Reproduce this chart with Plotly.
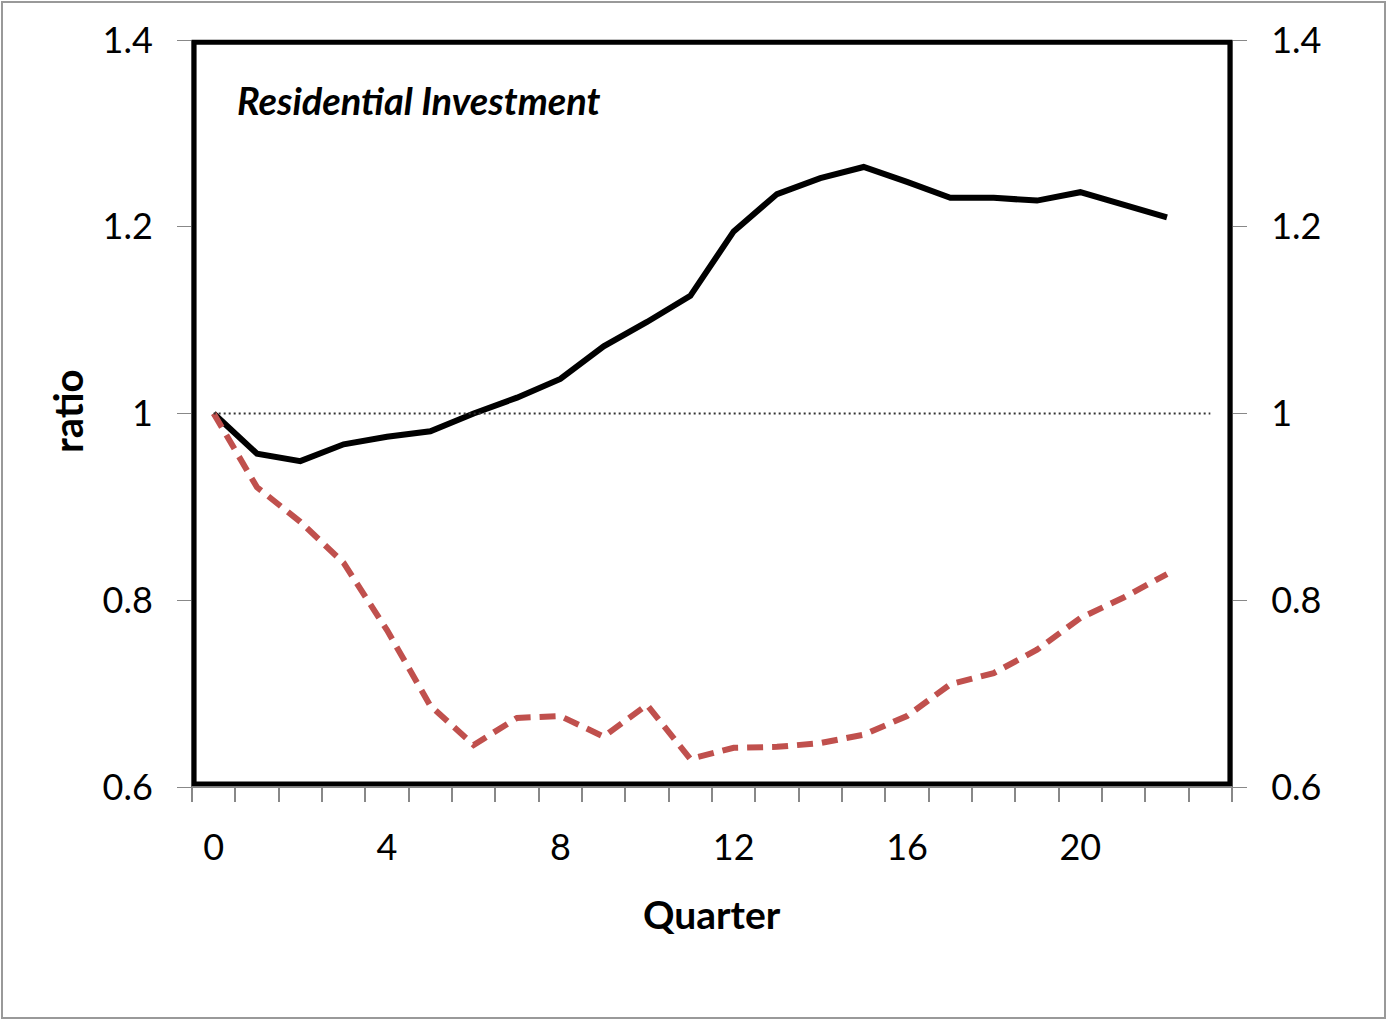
import plotly.graph_objects as go

quarters = list(range(23))
baseline_x = list(range(24))
baseline_y = [1.0] * 24
black_series = [1.000, 0.957, 0.949, 0.967, 0.975, 0.981, 1.000, 1.017, 1.037, 1.072,
                1.098, 1.126, 1.195, 1.235, 1.252, 1.264, 1.248, 1.231, 1.231, 1.228,
                1.237, 1.224, 1.210]
red_series = [1.000, 0.921, 0.884, 0.840, 0.768, 0.687, 0.645, 0.674, 0.676, 0.654,
              0.688, 0.630, 0.642, 0.643, 0.647, 0.656, 0.676, 0.710, 0.722, 0.747,
              0.781, 0.803, 0.828]
x_tick_vals = [0, 4, 8, 12, 16, 20]
y_tick_vals = [0.6, 0.8, 1.0, 1.2, 1.4]
y_tick_text = ["0.6", "0.8", "1", "1.2", "1.4"]

FONT = "Lato, 'Open Sans', sans-serif"

fig = go.Figure()
fig.add_trace(go.Scatter(x=baseline_x, y=baseline_y, mode="lines",
                         line=dict(color="#333333", width=2, dash="2px,3px"),
                         showlegend=False, hoverinfo="skip", yaxis="y2"))
fig.add_trace(go.Scatter(x=quarters, y=black_series, mode="lines",
                         line=dict(color="black", width=6), showlegend=False))
fig.add_trace(go.Scatter(x=quarters, y=red_series, mode="lines",
                         line=dict(color="#C0504D", width=6, dash="16px,9px"),
                         showlegend=False))

axis_common = dict(showgrid=False, zeroline=False, showline=True, linecolor="#888888", linewidth=1)

fig.update_layout(
    width=1387, height=1020,
    margin=dict(l=192, r=155, t=40, b=233),
    paper_bgcolor="white", plot_bgcolor="white",
    font=dict(family=FONT, size=36, color="black"),
    xaxis=dict(range=[-0.5, 23.5], tickmode="array", tickvals=x_tick_vals,
               ticks="outside", ticklen=14, tickcolor="rgba(0,0,0,0)",
               ticklabelstandoff=15,
               minor=dict(tickmode="linear", tick0=-0.5, dtick=1, ticks="outside",
                          ticklen=14, tickcolor="#888888", tickwidth=2),
               **axis_common),
    yaxis=dict(range=[0.6, 1.4], tickmode="array", tickvals=y_tick_vals, ticktext=y_tick_text,
               ticks="outside", ticklen=14, tickcolor="#888888", tickwidth=1,
               ticklabelstandoff=17, **axis_common),
    yaxis2=dict(range=[0.6, 1.4], tickmode="array", tickvals=y_tick_vals, ticktext=y_tick_text,
                overlaying="y", side="right",
                ticks="outside", ticklen=14, tickcolor="#888888", tickwidth=1,
                ticklabelstandoff=17, **axis_common),
)

# thick black frame of the plot area
fig.add_shape(type="rect", xref="paper", yref="paper", x0=0.002, x1=0.998, y0=0.004, y1=0.997,
              line=dict(color="black", width=5), fillcolor="rgba(0,0,0,0)", layer="above")
# outer gray border
fig.add_shape(type="rect", xref="paper", yref="paper",
              x0=(2 - 192) / 1040, x1=(1385 - 192) / 1040,
              y0=(787 - 1018) / 747, y1=(787 - 2) / 747,
              line=dict(color="#999999", width=2), fillcolor="rgba(0,0,0,0)")

fig.add_annotation(text="<b><i>Residential Investment</i></b>", xref="paper", yref="paper",
                   x=(235 - 192) / 1040, y=(787 - 100) / 747, xanchor="left", yanchor="middle",
                   showarrow=False, font=dict(size=38, family=FONT))
fig.add_annotation(text="<b>Quarter</b>", xref="paper", yref="paper",
                   x=(712 - 192) / 1040, y=(787 - 914) / 747, xanchor="center", yanchor="middle",
                   showarrow=False, font=dict(size=39, family=FONT))
fig.add_annotation(text="<b>ratio</b>", xref="paper", yref="paper", textangle=-90,
                   x=(68 - 192) / 1040, y=(787 - 412) / 747, xanchor="center", yanchor="middle",
                   showarrow=False, font=dict(size=40, family=FONT))

fig.write_html("out.html", config={"displayModeBar": False},
               post_script="document.body.style.margin='0px';")
